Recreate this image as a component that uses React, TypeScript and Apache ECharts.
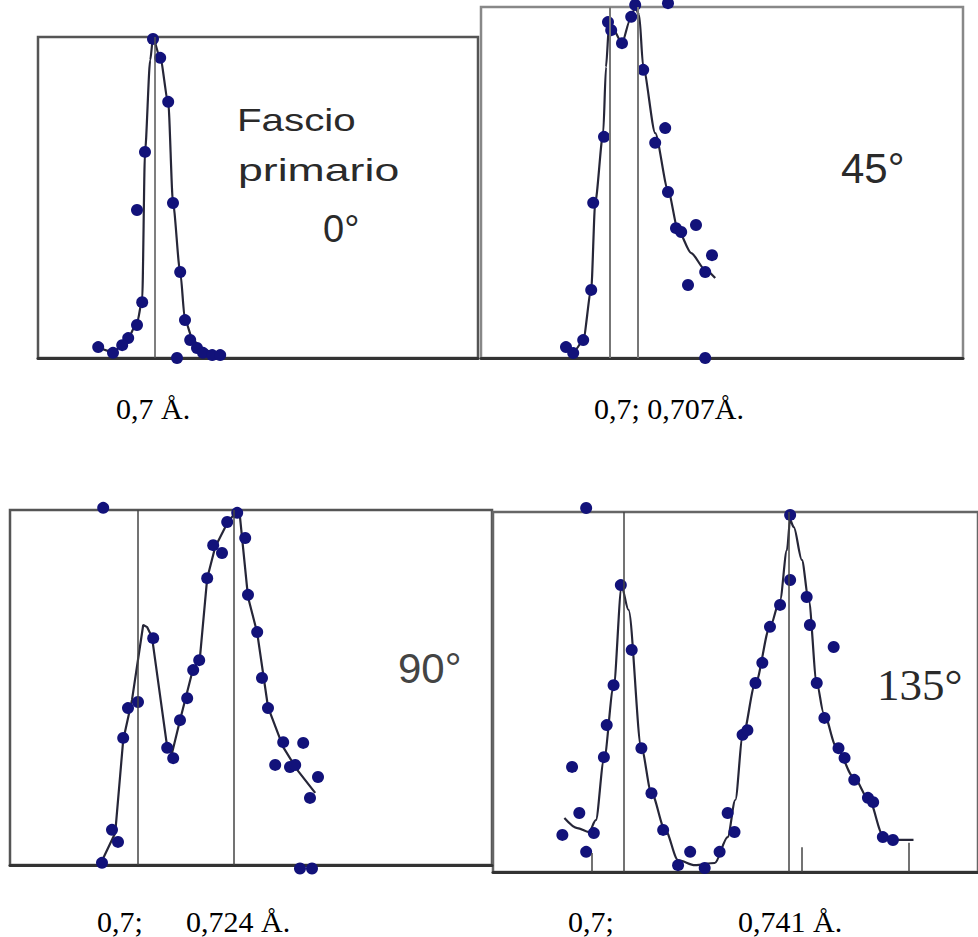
import React, { useEffect, useRef } from "react";
import * as echarts from "echarts";

// Wavelength (Å) of the reference lines in each panel
const p1Lines = [0.7];
const p2Lines = [0.7, 0.707];
const p3Lines = [0.7, 0.724];
const p4Lines = [0.7, 0.741];

// Small tick marks at the bottom of the 135° panel: [wavelength, height]
const p4Ticks = [
  [0.6921, 5.3],
  [0.7442, 6.9],
  [0.7707, 8.1],
];

// Measured points [wavelength Å, relative intensity]
const p1Dots = [
  [0.6995, 99.4], [0.7013, 93.5], [0.7033, 79.8], [0.6975, 64.2], [0.6955, 46.1],
  [0.7045, 48.3], [0.7063, 26.8], [0.6968, 17.4], [0.6955, 10.3], [0.7075, 11.8],
  [0.6933, 6.2], [0.7088, 5.6], [0.6858, 3.4], [0.6895, 1.6], [0.6918, 4.0],
  [0.7105, 3.1], [0.712, 1.6], [0.7143, 0.9], [0.7163, 0.9], [0.7055, 0],
];
const p1Curve = [
  [0.6855, 3.4], [0.6895, 1.9], [0.693, 5.6], [0.6955, 10.9], [0.6968, 18.1],
  [0.6975, 64.2], [0.6988, 92.8], [0.6995, 99.7], [0.7013, 93.5], [0.7033, 79.8],
  [0.7045, 48.3], [0.7063, 26.8], [0.7075, 11.8], [0.7095, 5.6], [0.712, 2.5],
  [0.7163, 0.9],
];

const p2Dots = [
  [0.689, 3.1], [0.6908, 1.4], [0.6933, 5.1], [0.6953, 19.4], [0.6958, 44.2],
  [0.6985, 63.0], [0.6995, 95.7], [0.7003, 93.4], [0.703, 89.7], [0.7053, 97.2],
  [0.7063, 100.6], [0.7145, 101.1], [0.7083, 82.1], [0.7138, 65.5], [0.7113, 61.3],
  [0.7145, 47.3], [0.7165, 37.0], [0.7178, 35.9], [0.7215, 37.9], [0.7255, 29.3],
  [0.7238, 24.5], [0.7195, 20.8], [0.7238, 0],
];
const p2Curve = [
  [0.6883, 3.7], [0.6913, 2.3], [0.6933, 5.1], [0.6953, 19.4], [0.6963, 44.2],
  [0.6983, 64.1], [0.699, 82.9], [0.6998, 95.4], [0.7005, 94.3], [0.703, 89.7],
  [0.705, 96.3], [0.7063, 100], [0.7073, 97.7], [0.7083, 82.9], [0.7113, 64.1],
  [0.7145, 47.9], [0.717, 36.5], [0.7203, 29.9], [0.7238, 25.1], [0.7263, 22.8],
];

const p3Dots = [
  [0.691, 0.6], [0.6935, 9.9], [0.695, 6.5], [0.6963, 35.8], [0.6975, 44.2],
  [0.7, 45.9], [0.7038, 63.9], [0.7073, 33.0], [0.7088, 30.1], [0.7105, 40.8],
  [0.7123, 47.0], [0.7138, 54.9], [0.7153, 57.7], [0.7173, 80.8], [0.7188, 90.1],
  [0.721, 87.9], [0.7223, 96.6], [0.7248, 99.2], [0.7268, 92.1], [0.7275, 76.1],
  [0.7298, 65.6], [0.731, 52.7], [0.7325, 44.2], [0.7363, 34.6], [0.7413, 34.4],
  [0.7343, 28.2], [0.738, 27.6], [0.7393, 28.2], [0.745, 24.8], [0.743, 18.9],
  [0.7405, -1], [0.7435, -1], [0.6913, 100.6],
];
const p3Curve = [
  [0.6905, 0], [0.6943, 9.0], [0.6963, 35.2], [0.6985, 46.5], [0.7013, 67.6],
  [0.7023, 67.0], [0.7035, 64.2], [0.7073, 33.2], [0.7085, 31.5], [0.7105, 40.8],
  [0.7135, 54.1], [0.7155, 58.6], [0.7173, 80.8], [0.7193, 89.6], [0.7223, 96.3],
  [0.7243, 99.2], [0.7255, 98.0], [0.7275, 75.5], [0.7298, 65.4], [0.7325, 44.5],
  [0.7363, 33.2], [0.7398, 26.8], [0.7443, 20.3],
];

const p4Dots = [
  [0.6907, 101.1], [0.6993, 79.7], [0.702, 61.7], [0.6975, 51.9], [0.6958, 40.8],
  [0.6951, 31.9], [0.7044, 34.4], [0.7069, 21.9], [0.7098, 11.7], [0.6872, 29.2],
  [0.689, 16.4], [0.6848, 10.3], [0.6926, 10.8], [0.6907, 5.6], [0.7135, 1.9],
  [0.7165, 5.6], [0.7201, 1.1], [0.7238, 5.6], [0.7258, 16.4], [0.7275, 11.1],
  [0.7295, 38.1], [0.7307, 39.4], [0.7327, 52.5], [0.7344, 58.1], [0.7363, 68.1],
  [0.7388, 74.2], [0.7413, 81.1], [0.7413, 99.2], [0.7454, 76.4], [0.7462, 68.6],
  [0.7521, 62.5], [0.7479, 52.5], [0.7498, 42.8], [0.7533, 34.4], [0.7548, 31.7],
  [0.7572, 25.6], [0.7606, 20.6], [0.7619, 19.4], [0.7643, 9.7], [0.7668, 8.9],
];
const p4Curve = [
  [0.6853, 15.0], [0.6885, 12.2], [0.6914, 11.1], [0.6931, 14.4], [0.6951, 31.1],
  [0.6975, 51.4], [0.6995, 79.2], [0.7012, 72.8], [0.7044, 34.4], [0.7069, 21.9],
  [0.7103, 11.7], [0.7135, 3.3], [0.7177, 1.9], [0.7226, 2.5], [0.7258, 9.7],
  [0.7277, 20.0], [0.7295, 37.5], [0.7327, 52.5], [0.7363, 68.1], [0.7388, 75.6],
  [0.7405, 89.4], [0.7413, 97.8], [0.7422, 95.8], [0.7442, 86.7], [0.7459, 75.6],
  [0.7479, 52.5], [0.7496, 44.2], [0.7528, 34.7], [0.757, 26.4], [0.7609, 20.0],
  [0.7643, 10.3], [0.7675, 8.9], [0.7719, 8.9],
];

// Texts
const panelLabels = ["Fascio", "primario", "0°", "45°", "90°", "135°"];
const captions = ["0,7 Å.", "0,7; 0,707Å.", "0,7;", "0,724 Å.", "0,7;", "0,741 Å."];

const DOT = "#12127a";
const CURVE = "#262638";

export default function App() {
  const ref = useRef<HTMLDivElement>(null);

  useEffect(() => {
    const chart = echarts.init(ref.current!, null, { renderer: "svg" });

    const panels = [
      { grid: { left: 38, top: 37, width: 440, height: 321 }, xMin: 0.67075, xMax: 0.78075, dots: p1Dots, curve: p1Curve, lines: p1Lines, ticks: [] as number[][], smooth: 0.25, vColor: "#555", vWidth: 1.5, border: "#555" },
      { grid: { left: 481, top: 7, width: 482, height: 351 }, xMin: 0.66775, xMax: 0.78825, dots: p2Dots, curve: p2Curve, lines: p2Lines, ticks: [] as number[][], smooth: 0.25, vColor: "#777", vWidth: 2, border: "#888" },
      { grid: { left: 10, top: 510, width: 482, height: 355 }, xMin: 0.668, xMax: 0.7885, dots: p3Dots, curve: p3Curve, lines: p3Lines, ticks: [] as number[][], smooth: false as any, vColor: "#444", vWidth: 1.5, border: "#555" },
      { grid: { left: 493, top: 512, width: 490, height: 360 }, xMin: 0.66759, xMax: 0.7879, dots: p4Dots, curve: p4Curve, lines: p4Lines, ticks: p4Ticks, smooth: 0.3, vColor: "#444", vWidth: 1.5, border: "#666" },
    ];

    const series: any[] = [];
    panels.forEach((p, i) => {
      series.push({
        type: "line",
        xAxisIndex: i,
        yAxisIndex: i,
        data: p.curve,
        showSymbol: false,
        smooth: p.smooth,
        smoothMonotone: "x",
        clip: false,
        z: 2,
        lineStyle: { color: CURVE, width: 2.2 },
        markLine: {
          silent: true,
          symbol: "none",
          precision: 5,
          label: { show: false },
          lineStyle: { color: p.vColor, width: p.vWidth, type: "solid" },
          data: [
            ...p.lines.map((v) => ({ xAxis: v })),
            ...p.ticks.map((t) => [{ coord: [t[0], 0] }, { coord: [t[0], t[1]] }]),
          ],
        },
      });
      series.push({
        type: "scatter",
        xAxisIndex: i,
        yAxisIndex: i,
        data: p.dots,
        symbolSize: 12,
        clip: false,
        z: 3,
        itemStyle: { color: DOT, opacity: 1 },
      });
    });

    const serif = "'Liberation Serif', 'Times New Roman', serif";
    const sans = "'Liberation Sans', Arial, sans-serif";
    const txt = (text: string, x: number, y: number, size: number, family: string, color: string, scaleX = 1) => ({
      type: "text",
      x,
      y,
      scaleX,
      z: 10,
      style: { text, fontSize: size, fontFamily: family, fill: color, verticalAlign: "middle", align: "left" },
    });

    const option: any = {
      animation: false,
      backgroundColor: "#ffffff",
      grid: panels.map((p) => ({ ...p.grid, show: true, borderColor: p.border, borderWidth: 2.5, backgroundColor: "transparent" })),
      xAxis: panels.map((p, i) => ({
        type: "value",
        gridIndex: i,
        min: p.xMin,
        max: p.xMax,
        axisLine: { show: true, onZero: false, lineStyle: { color: "#333", width: 3 } },
        axisTick: { show: false },
        axisLabel: { show: false },
        splitLine: { show: false },
      })),
      yAxis: panels.map((p, i) => ({
        type: "value",
        gridIndex: i,
        min: 0,
        max: 100,
        axisLine: { show: false },
        axisTick: { show: false },
        axisLabel: { show: false },
        splitLine: { show: false },
      })),
      series,
      graphic: [
        txt(panelLabels[0], 237, 120, 31, sans, "#2a2a2a", 1.3),
        txt(panelLabels[1], 238, 170, 31, sans, "#2a2a2a", 1.44),
        txt(panelLabels[2], 323, 229, 38, sans, "#2a2a2a"),
        txt(panelLabels[3], 841, 168, 42, sans, "#2a2a2a"),
        txt(panelLabels[4], 398, 668, 42, sans, "#444"),
        txt(panelLabels[5], 877, 685, 45, serif, "#2a2a2a"),
        txt(captions[0], 116, 408, 30, serif, "#000"),
        txt(captions[1], 594, 408, 30, serif, "#000"),
        txt(captions[2], 97, 921, 30, serif, "#000"),
        txt(captions[3], 186, 921, 30, serif, "#000"),
        txt(captions[4], 568, 921, 30, serif, "#000"),
        txt(captions[5], 738, 921, 30, serif, "#000"),
      ],
    };

    chart.setOption(option);
    return () => chart.dispose();
  }, []);

  return (
    <div
      ref={ref}
      style={{ position: "fixed", left: 0, top: 0, width: 978, height: 937, background: "#fff" }}
    />
  );
}
